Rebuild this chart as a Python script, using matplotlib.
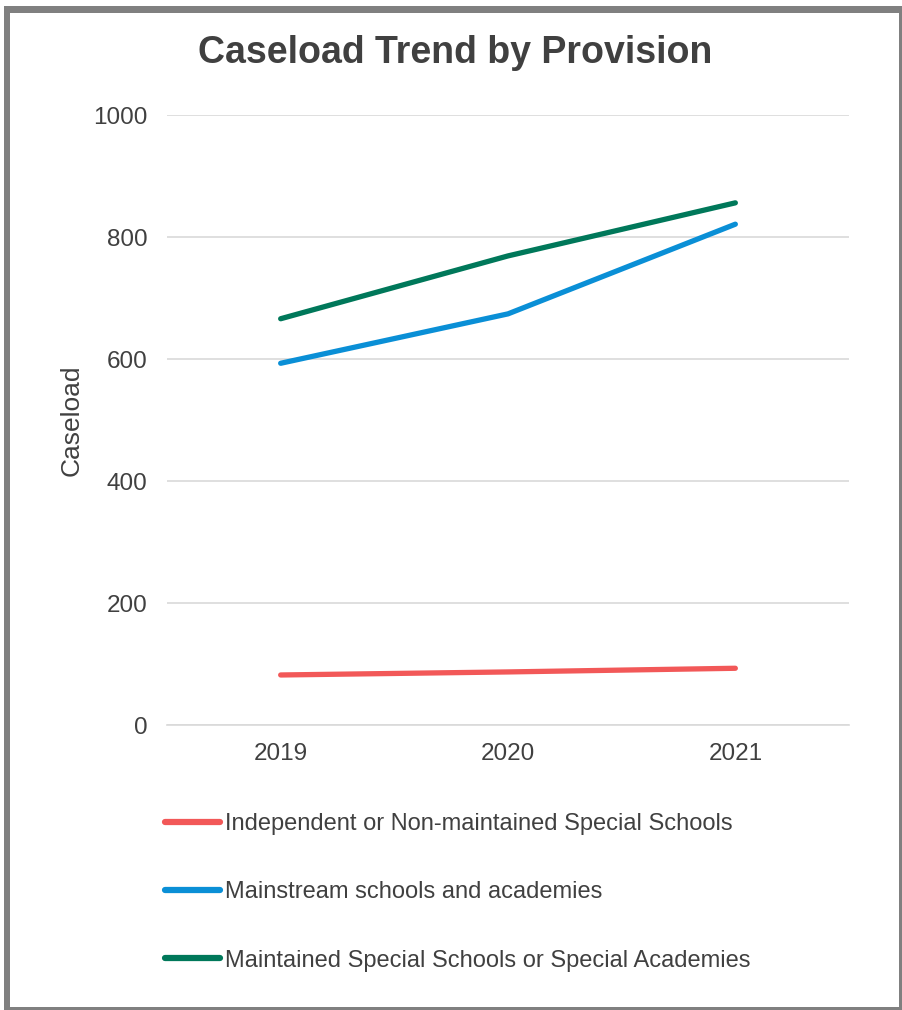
import matplotlib
matplotlib.use("Agg")
import matplotlib.pyplot as plt
from matplotlib.patches import Rectangle

plt.rcParams['font.family'] = ['Liberation Sans', 'DejaVu Sans']

years = ["2019", "2020", "2021"]
series_names = [
    "Independent or Non-maintained Special Schools",
    "Mainstream schools and academies",
    "Maintained Special Schools or Special Academies",
]
independent = [82, 87, 93]
mainstream = [593, 674, 821]
maintained = [666, 769, 856]
colors = ["#F25858", "#0A8FD6", "#00785A"]
yticks = [0, 200, 400, 600, 800, 1000]

W, H = 902, 1010
fig = plt.figure(figsize=(W / 100, H / 100), dpi=100)
fig.patch.set_facecolor("white")

# border (thick top/left, thin right/bottom)
def band(x0, y0, x1, y1):
    fig.add_artist(Rectangle((x0 / W, 1 - y1 / H), (x1 - x0) / W, (y1 - y0) / H,
                             transform=fig.transFigure, facecolor="#808080",
                             edgecolor="none"))

band(4, 6, 902, 13)
band(4, 6, 10, 1010)
band(899, 6, 902, 1010)
band(4, 1007, 902, 1010)

ax = fig.add_axes([167 / W, 1 - 725 / H, (849 - 167) / W, (725 - 115) / H])
x = list(range(len(years)))
for vals, name, c in zip([independent, mainstream, maintained], series_names, colors):
    ax.plot(x, vals, color=c, linewidth=3.8, solid_capstyle="round",
            solid_joinstyle="round", label=name)

ax.set_xlim(-0.5, len(years) - 0.5)
ax.set_ylim(0, 1000)
ax.set_yticks(yticks)
ax.set_xticks(x)
ax.set_xticklabels(years)
ax.grid(axis="y", color="#D9D9D9", linewidth=1.2)
ax.set_axisbelow(True)
for s in ["top", "right", "left"]:
    ax.spines[s].set_visible(False)
ax.spines["bottom"].set_color("#D9D9D9")
ax.spines["bottom"].set_linewidth(1.2)
ax.tick_params(axis="both", length=0, labelsize=17.5, colors="#404040")
ax.tick_params(axis="y", pad=14)
ax.tick_params(axis="x", pad=13)
ax.set_ylabel("Caseload", fontsize=19, color="#404040", labelpad=7)

fig.text(455 / W, 1 - 53 / H, "Caseload Trend by Provision", ha="center", va="center",
         fontsize=27, fontweight="bold", color="#404040")

leg = fig.legend(loc="upper left", bbox_to_anchor=(165 / W, 1 - 813 / H),
                 borderaxespad=0, borderpad=0,
                 frameon=False, fontsize=17, handlelength=2.33, handletextpad=0.2,
                 labelspacing=1.96, labelcolor="#404040")
for line in leg.get_lines():
    line.set_linewidth(4.5)
    line.set_solid_capstyle("round")

fig.savefig("out.png", dpi=100, facecolor="white")
